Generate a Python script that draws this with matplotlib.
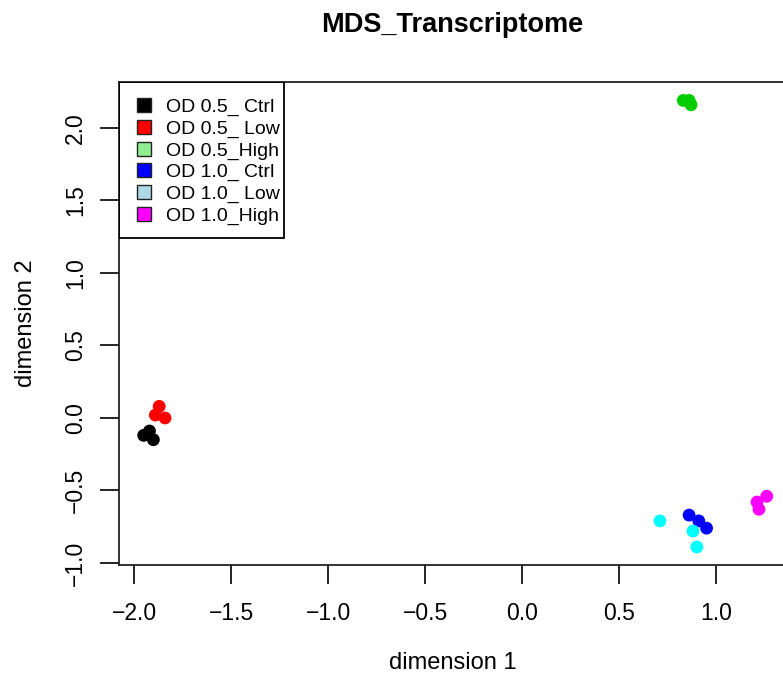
import matplotlib
matplotlib.use('Agg')
import matplotlib.pyplot as plt
from matplotlib.lines import Line2D
from matplotlib.patches import Rectangle

plt.rcParams['font.family'] = ['Liberation Sans', 'DejaVu Sans']

# MDS coordinates per group (three replicates each)
groups = ['OD 0.5_ Ctrl', 'OD 0.5_ Low', 'OD 0.5_High',
          'OD 1.0_ Ctrl', 'OD 1.0_ Low', 'OD 1.0_High']
dim1 = [[-1.95, -1.92, -1.90],
        [-1.87, -1.89, -1.84],
        [0.83, 0.86, 0.87],
        [0.86, 0.91, 0.95],
        [0.71, 0.88, 0.90],
        [1.21, 1.26, 1.22]]
dim2 = [[-0.12, -0.09, -0.15],
        [0.08, 0.02, 0.00],
        [2.19, 2.19, 2.16],
        [-0.67, -0.71, -0.76],
        [-0.71, -0.78, -0.89],
        [-0.58, -0.54, -0.63]]
point_cols = ['black', 'red', '#00CD00', 'blue', 'cyan', 'magenta']
legend_cols = ['black', 'red', 'lightgreen', 'blue', 'lightblue', 'magenta']
xticks = [-2.0, -1.5, -1.0, -0.5, 0.0, 0.5, 1.0]
yticks = [-1.0, -0.5, 0.0, 0.5, 1.0, 1.5, 2.0]


def fmt(v):
    return ('%.1f' % v).replace('-', '\u2212')


fig = plt.figure(figsize=(7.83, 6.75), dpi=100)
ax = fig.add_axes([0.152, 0.163, 0.852, 0.7155])

for i in range(len(groups)):
    ax.scatter(dim1[i], dim2[i], s=85, color=point_cols[i], edgecolors='none', zorder=3)

ax.set_xlim(-2.077, 1.36)
ax.set_ylim(-1.014, 2.317)
ax.set_xticks(xticks)
ax.set_yticks(yticks)
ax.set_xticklabels([fmt(t) for t in xticks])
ax.set_yticklabels([fmt(t) for t in yticks], rotation=90, va='center')
ax.tick_params(direction='out', length=14, width=1.2, labelsize=16.5, color='black')
ax.tick_params(axis='x', pad=13)
ax.tick_params(axis='y', pad=9)
for sp in ax.spines.values():
    sp.set_linewidth(1.3)
    sp.set_color('#222222')

ax.set_xlabel('dimension 1', fontsize=17)
ax.set_ylabel('dimension 2', fontsize=17)
ax.xaxis.set_label_coords(0.5, -0.203)
ax.yaxis.set_label_coords(-0.14, 0.5)
ax.xaxis.label.set_va('center')
ax.yaxis.label.set_va('center')
ax.set_title('MDS_Transcriptome', fontsize=19.5, fontweight='bold', y=1.118, va='center', pad=0)

# legend entries, with the box drawn separately
handles = [Line2D([], [], marker='s', linestyle='none', markersize=10,
                  markerfacecolor=c, markeredgecolor='#222222', markeredgewidth=1.0)
           for c in legend_cols]
leg = ax.legend(handles, groups, loc='upper left', bbox_to_anchor=(0, 1),
                borderaxespad=0, fontsize=14, frameon=False,
                labelspacing=0.2, handlelength=0.9, handletextpad=0.65,
                borderpad=0.85)
ax.add_patch(Rectangle((0, 0.677), 0.2473, 0.323, transform=ax.transAxes,
                       facecolor='none', edgecolor='black', linewidth=1.3, zorder=5))

fig.savefig('out.png', dpi=100)
